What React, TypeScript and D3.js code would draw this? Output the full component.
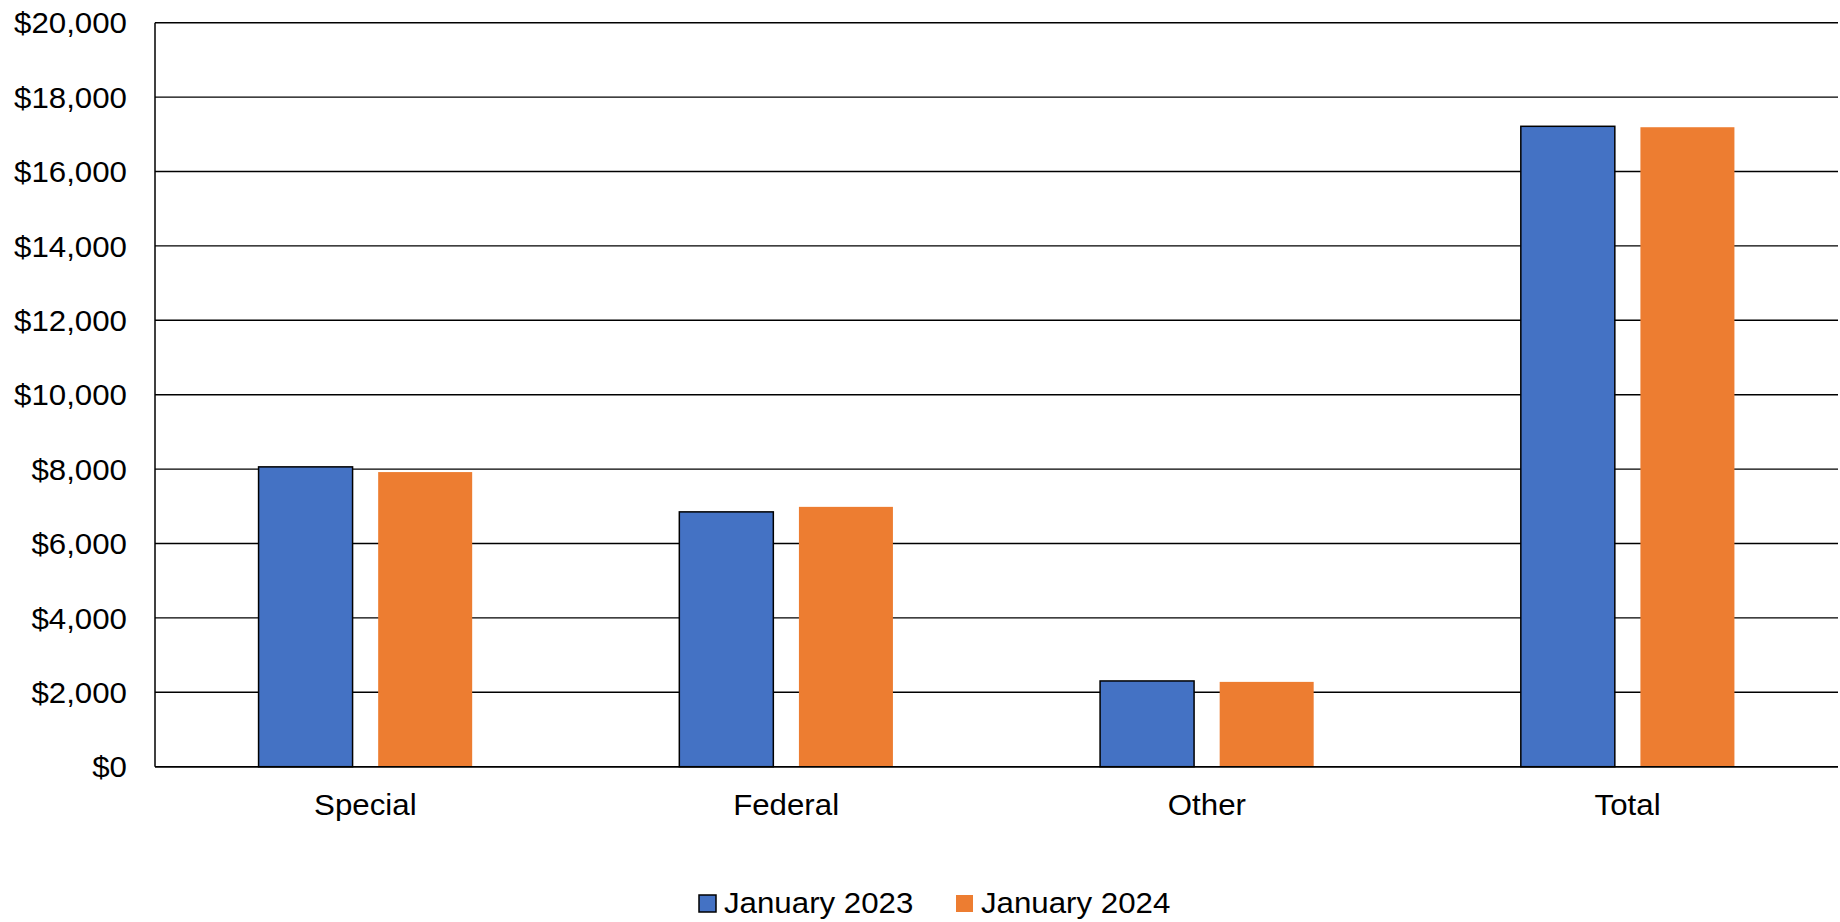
import React from "react";
import * as d3 from "d3";

const categories = ["Special", "Federal", "Other", "Total"];
const seriesNames = ["January 2023", "January 2024"];
const jan2023 = [8060, 6850, 2305, 17215];
const jan2024 = [7920, 6985, 2280, 17190];
const yTicks = [0, 2000, 4000, 6000, 8000, 10000, 12000, 14000, 16000, 18000, 20000];
const colors = ["#4472C4", "#ED7D31"];

const W = 1840;
const H = 922;
const left = 155;
const right = 1838;
const top = 22.7;
const bottom = 766.7;
const FONT = "'Liberation Sans', Arial, sans-serif";
const FS = 29.5;
const SX = 1.06;

export default function App() {
  const x0 = d3.scaleBand<string>().domain(categories).range([left, right]).padding(0);
  const x1 = d3
    .scaleBand<string>()
    .domain(seriesNames)
    .range([0, x0.bandwidth()])
    .paddingInner(0.214)
    .paddingOuter(0.866);
  const y = d3.scaleLinear().domain([0, 20000]).range([bottom, top]);
  const fmt = (v: number) => "$" + d3.format(",")(v);
  const series = [jan2023, jan2024];
  const stretch = (ax: number) => `translate(${ax},0) scale(${SX},1) translate(${-ax},0)`;

  return (
    <svg
      width={W}
      height={H}
      style={{ position: "absolute", left: 0, top: 0, background: "#fff" }}
      fontFamily={FONT}
    >
      <rect width={W} height={H} fill="#fff" />
      {yTicks.map((t) => (
        <g key={t}>
          <line x1={left} x2={right} y1={y(t)} y2={y(t)} stroke="#000" strokeWidth={1.4} />
          <text
            x={127}
            y={y(t)}
            textAnchor="end"
            dominantBaseline="central"
            fontSize={FS}
            fill="#000"
            transform={stretch(127)}
          >
            {fmt(t)}
          </text>
        </g>
      ))}
      {categories.map((c, i) =>
        series.map((s, j) => (
          <rect
            key={c + j}
            x={(x0(c) as number) + (x1(seriesNames[j]) as number)}
            y={y(s[i])}
            width={x1.bandwidth()}
            height={bottom - y(s[i])}
            fill={colors[j]}
            stroke={j === 0 ? "#000" : "none"}
            strokeWidth={1.5}
          />
        ))
      )}
      <line x1={left} x2={left} y1={top} y2={bottom} stroke="#000" strokeWidth={1.5} />
      <line x1={left} x2={right} y1={bottom} y2={bottom} stroke="#000" strokeWidth={1.5} />
      {categories.map((c) => {
        const cx = (x0(c) as number) + x0.bandwidth() / 2;
        return (
          <text
            key={c}
            x={cx}
            y={815}
            textAnchor="middle"
            fontSize={FS}
            fill="#000"
            transform={stretch(cx)}
          >
            {c}
          </text>
        );
      })}
      {seriesNames.map((n, j) => {
        const lx = j === 0 ? 699 : 956;
        return (
          <g key={n}>
            <rect
              x={lx}
              y={895}
              width={17}
              height={17}
              fill={colors[j]}
              stroke={j === 0 ? "#000" : "none"}
              strokeWidth={1.5}
            />
            <text x={lx + 25} y={913} fontSize={FS} fill="#000" transform={stretch(lx + 25)}>
              {n}
            </text>
          </g>
        );
      })}
    </svg>
  );
}
